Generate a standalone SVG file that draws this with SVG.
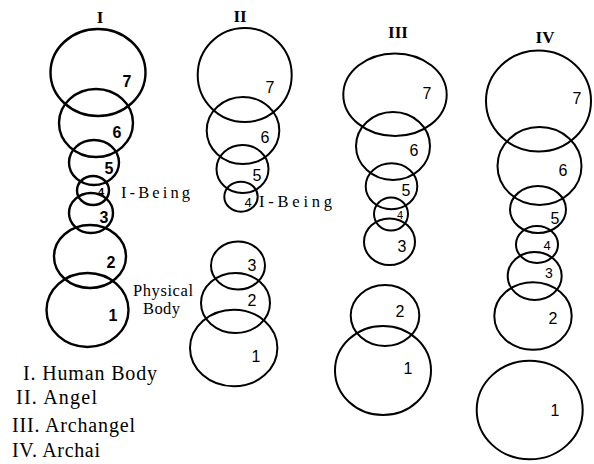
<svg xmlns="http://www.w3.org/2000/svg" width="594" height="464" viewBox="0 0 594 464">
<style>
.c{fill:none;stroke:#000;stroke-width:2}
.cb{fill:none;stroke:#000;stroke-width:2.4}
.n{font-family:"Liberation Sans",Arial,sans-serif;font-size:16px;fill:#000;text-anchor:middle;dominant-baseline:central}
.nb{font-weight:bold}
.s{font-size:11px}
.t{font-family:"Liberation Serif","Times New Roman",serif;font-size:17px;font-weight:bold;fill:#000;text-anchor:middle;dominant-baseline:central}
.l{font-family:"Liberation Serif","Times New Roman",serif;font-size:16.5px;fill:#000}
.g{font-family:"Liberation Serif","Times New Roman",serif;font-size:20px;fill:#000}
</style>
<rect width="594" height="464" fill="#fff"/>
<g id="connectors"/>
<g id="col-I">
<text class="t" x="100" y="17">I</text>
<g id="I-7"><ellipse class="cb" cx="98" cy="72.5" rx="47.5" ry="43.5"/><text class="n nb" x="127" y="81">7</text></g>
<g id="I-6"><ellipse class="cb" cx="96" cy="123" rx="37" ry="34"/><text class="n nb" x="117" y="132">6</text></g>
<g id="I-5"><ellipse class="cb" cx="94" cy="162.5" rx="25" ry="22.5"/><text class="n nb" x="109" y="168">5</text></g>
<g id="I-4"><ellipse class="cb" cx="93" cy="190.5" rx="16" ry="14.5"/><text class="n nb s" x="101" y="192">4</text></g>
<g id="I-3"><ellipse class="cb" cx="91" cy="213" rx="22" ry="20"/><text class="n nb" x="104" y="217">3</text></g>
<g id="I-2"><ellipse class="cb" cx="90" cy="256.5" rx="36" ry="31.5"/><text class="n nb" x="111" y="262">2</text></g>
<g id="I-1"><ellipse class="cb" cx="87.5" cy="310" rx="41" ry="37"/><text class="n nb" x="113" y="315">1</text></g>
<text class="l" x="121" y="198" textLength="69" lengthAdjust="spacing">I-Being</text>
<text class="l" x="133" y="296" textLength="60" lengthAdjust="spacing">Physical</text>
<text class="l" x="143" y="314" textLength="37" lengthAdjust="spacing">Body</text>
</g>
<g id="col-II">
<text class="t" x="240" y="16">II</text>
<g id="II-7"><ellipse class="c" cx="244.7" cy="75" rx="47" ry="47"/><text class="n" x="270" y="87">7</text></g>
<g id="II-6"><ellipse class="c" cx="243" cy="130.5" rx="36.3" ry="33.5"/><text class="n" x="265" y="137">6</text></g>
<g id="II-5"><ellipse class="c" cx="242.5" cy="169" rx="26" ry="24"/><text class="n" x="257" y="175">5</text></g>
<g id="II-4"><ellipse class="c" cx="241" cy="196.7" rx="16.7" ry="15"/><text class="n" x="248" y="202" style="font-size:13px">4</text></g>
<g id="II-3"><ellipse class="c" cx="238" cy="265.5" rx="27" ry="24"/><text class="n" x="252" y="265">3</text></g>
<g id="II-2"><ellipse class="c" cx="235.5" cy="303" rx="34.5" ry="30"/><text class="n" x="252" y="300.7">2</text></g>
<g id="II-1"><ellipse class="c" cx="233.7" cy="348" rx="43.7" ry="38.3"/><text class="n" x="256" y="356.7">1</text></g>
<text class="l" x="259" y="207" textLength="73" lengthAdjust="spacing">I-Being</text>
</g>
<g id="col-III">
<text class="t" x="398" y="32">III</text>
<g id="III-7"><ellipse class="c" cx="395" cy="94.7" rx="51.7" ry="41.3"/><text class="n" x="427" y="93">7</text></g>
<g id="III-6"><ellipse class="c" cx="393" cy="146" rx="37" ry="34"/><text class="n" x="414" y="150">6</text></g>
<g id="III-5"><ellipse class="c" cx="391.5" cy="186.3" rx="25.8" ry="23"/><text class="n" x="406" y="190.7">5</text></g>
<g id="III-4"><ellipse class="c" cx="391" cy="214" rx="17" ry="16.5"/><text class="n s" x="400" y="215">4</text></g>
<g id="III-3"><ellipse class="c" cx="389.5" cy="241.7" rx="25.5" ry="23.3"/><text class="n" x="402" y="246.7">3</text></g>
<g id="III-2"><ellipse class="c" cx="385" cy="315.5" rx="34.3" ry="30.5"/><text class="n" x="400" y="311.7">2</text></g>
<g id="III-1"><ellipse class="c" cx="383" cy="370.5" rx="48" ry="44.5"/><text class="n" x="408" y="368.3">1</text></g>
</g>
<g id="col-IV">
<text class="t" x="545" y="37">IV</text>
<g id="IV-7"><ellipse class="c" cx="538.5" cy="101" rx="52.5" ry="50.5"/><text class="n" x="577" y="98">7</text></g>
<g id="IV-6"><ellipse class="c" cx="539.5" cy="166" rx="42" ry="39"/><text class="n" x="563" y="170.7">6</text></g>
<g id="IV-5"><ellipse class="c" cx="538" cy="209.5" rx="28" ry="23.5"/><text class="n" x="555" y="218">5</text></g>
<g id="IV-4"><ellipse class="c" cx="537" cy="244.5" rx="21" ry="18.5"/><text class="n" x="547" y="245" style="font-size:13px">4</text></g>
<g id="IV-3"><ellipse class="c" cx="534.7" cy="276" rx="27" ry="24"/><text class="n" x="549" y="273.3" style="font-size:14px">3</text></g>
<g id="IV-2"><ellipse class="c" cx="533" cy="316" rx="38.7" ry="33.8"/><text class="n" x="553" y="318.3">2</text></g>
<g id="IV-1"><ellipse class="c" cx="529.7" cy="410" rx="53" ry="49.3"/><text class="n" x="555" y="410.7">1</text></g>
</g>
<g id="legend">
<text class="g" x="23" y="380" textLength="134" lengthAdjust="spacing">I. Human Body</text>
<text class="g" x="16" y="404" textLength="81" lengthAdjust="spacing">II. Angel</text>
<text class="g" x="12" y="432" textLength="123" lengthAdjust="spacing">III. Archangel</text>
<text class="g" x="12" y="457" textLength="88" lengthAdjust="spacing">IV. Archai</text>
</g>
</svg>
